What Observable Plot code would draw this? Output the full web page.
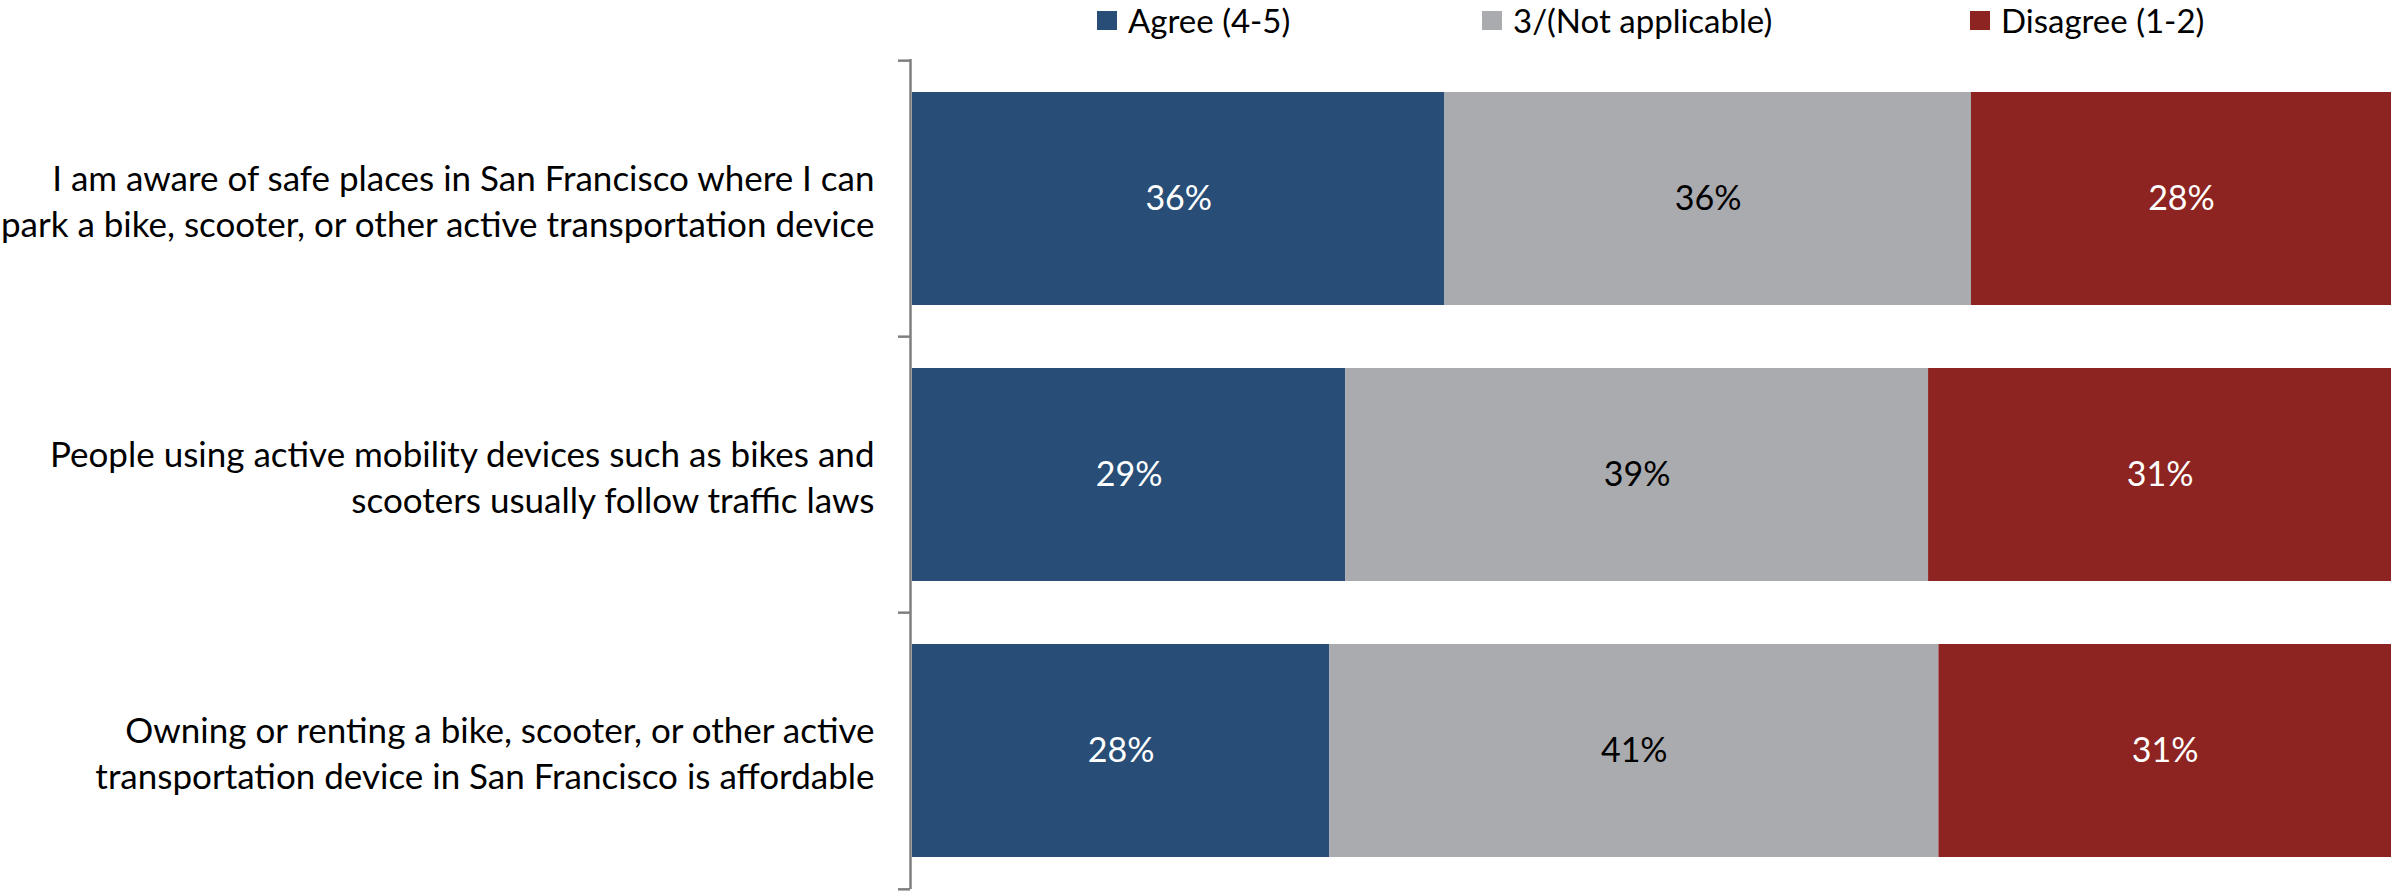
<!DOCTYPE html>
<html>
<head>
<meta charset="utf-8">
<script src="https://cdn.jsdelivr.net/npm/d3@7"></script>
<script src="https://cdn.jsdelivr.net/npm/@observablehq/plot@0.6"></script>
<style>
  html, body { margin: 0; padding: 0; background: #fff; overflow: hidden; }
  #legend { height: 40px; display: flex; align-items: center; padding-left: 1097px;
            font-family: Lato, "Open Sans", sans-serif; font-size: 33px; color: #000; }
  .item { display: flex; align-items: center; }
  .sw { width: 20px; height: 19px; margin-right: 11px; flex: none; }
  svg { display: block; }
</style>
</head>
<body>
<div id="legend"></div>
<div id="chart"></div>
<script>
const questions = [
  "I am aware of safe places in San Francisco where I can\npark a bike, scooter, or other active transportation device",
  "People using active mobility devices such as bikes and\nscooters usually follow traffic laws",
  "Owning or renting a bike, scooter, or other active\ntransportation device in San Francisco is affordable"
];
const responses = ["Agree (4-5)", "3/(Not applicable)", "Disagree (1-2)"];
const agree = [36.0, 29.3, 28.2];
const neutral = [35.6, 39.4, 41.2];
const disagree = [28.4, 31.3, 30.6];
const colors = ["#284e77", "#aaabaf", "#8d2421"];
const labelColors = ["#ffffff", "#000000", "#ffffff"];

const series = [agree, neutral, disagree];
const rows = [];
questions.forEach((q, i) => {
  responses.forEach((r, j) => rows.push({question: q, response: r, value: series[j][i], labelColor: labelColors[j]}));
});

// legend
const itemWidths = [385, 488, 300];
const legend = document.getElementById("legend");
responses.forEach((r, j) => {
  const it = document.createElement("div");
  it.className = "item";
  it.style.width = itemWidths[j] + "px";
  const sw = document.createElement("div");
  sw.className = "sw";
  sw.style.background = colors[j];
  const tx = document.createElement("span");
  tx.textContent = r;
  it.appendChild(sw); it.appendChild(tx);
  legend.appendChild(it);
});

const W = 2391, H = 851, mTop = 19, mBottom = 2, mLeft = 912, mRight = 0;
const step = (H - mTop - mBottom) / questions.length;
const pxPerUnit = (W - mLeft - mRight) / 100;
const tickLen = 12;

const chart = Plot.plot({
  width: W, height: H,
  marginTop: mTop, marginBottom: mBottom, marginLeft: mLeft, marginRight: mRight,
  style: {fontFamily: "Lato, 'Open Sans', sans-serif", background: "#fff"},
  x: {domain: [0, 100], axis: null},
  y: {domain: questions, paddingInner: 0.23, paddingOuter: 0.115, axis: null, label: null},
  color: {domain: responses, range: colors},
  marks: [
    Plot.barX(rows, Plot.stackX({x: "value", y: "question", fill: "response", z: "response"})),
    Plot.text(rows, Plot.stackX({x: "value", y: "question", z: "response",
      text: d => Math.round(d.value) + "%", fill: "labelColor", fontSize: 34})),
    Plot.ruleX([0], {stroke: "#7f7f7f", strokeWidth: 2.5, dx: -2}),
    Plot.ruleY(questions, {y: d => d, x1: -tickLen / pxPerUnit, x2: 0, dx: -2, dy: -step / 2, stroke: "#7f7f7f", strokeWidth: 2.5}),
    Plot.ruleY(questions.slice(-1), {y: d => d, x1: -tickLen / pxPerUnit, x2: 0, dx: -2, dy: step / 2, stroke: "#7f7f7f", strokeWidth: 2.5}),
    Plot.axisY({tickSize: 0, tickPadding: 38, fontSize: 35, lineHeight: 1.31, textAnchor: "end", fill: "#000", label: null})
  ]
});
document.getElementById("chart").appendChild(chart);
</script>
</body>
</html>
